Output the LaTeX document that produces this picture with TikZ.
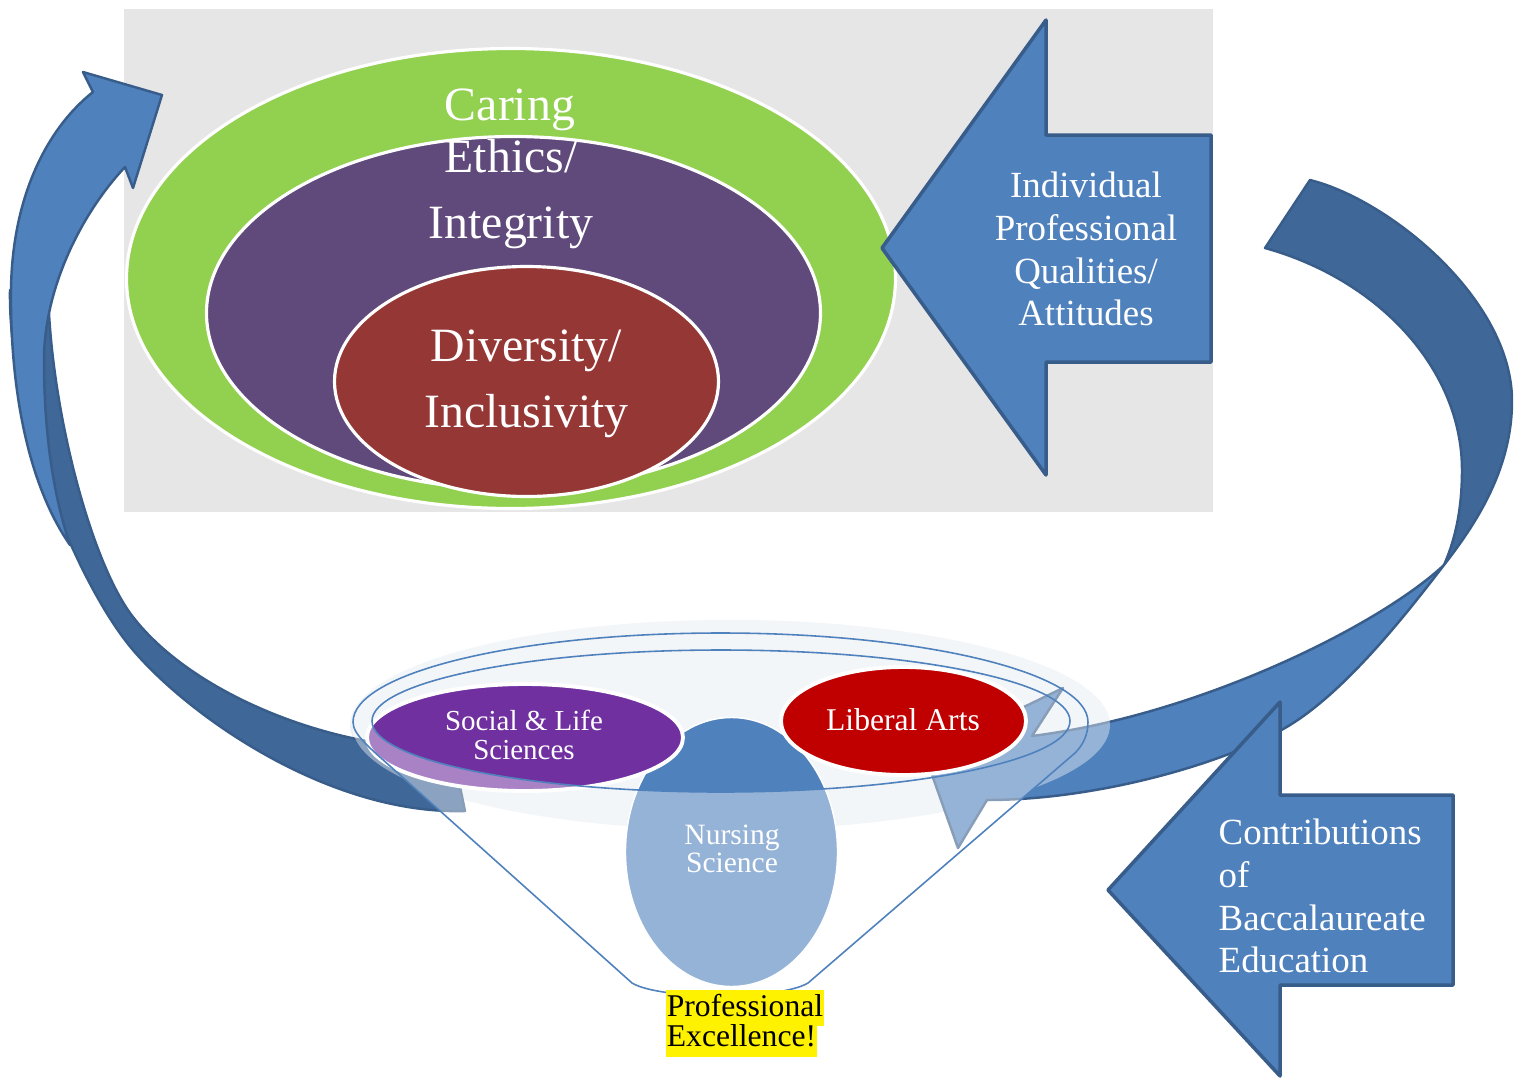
\documentclass[tikz,border=0pt]{standalone}
\usepackage{fontspec}
\setmainfont{Liberation Serif}
\usepackage{tikz}
\usepackage{xcolor}
\definecolor{panel}{HTML}{E6E6E6}
\definecolor{caring}{HTML}{92D050}
\definecolor{ethics}{HTML}{604A7B}
\definecolor{diversity}{HTML}{953735}
\definecolor{arrowfill}{HTML}{4F81BD}
\definecolor{arrowback}{HTML}{3F6797}
\definecolor{arrowedge}{HTML}{385D8A}
\definecolor{social}{HTML}{7030A0}
\definecolor{liberal}{HTML}{C00000}
\definecolor{glow}{HTML}{ECF0F5}
\newcommand{\funnelpath}{(353,722) arc[start angle=180, end angle=360, x radius=367.5, y radius=89] .. controls (1088,735) and (1083,745) .. (1075,753) -- (808,983) .. controls (780,1000) and (660,1000) .. (632,983) -- (400,775) .. controls (370,748) and (353,735) .. cycle}

\begin{document}
\begin{tikzpicture}[x=0.1mm, y=-0.1mm,
    blockarrow/.style={fill=arrowfill, draw=arrowedge, line width=1pt, line join=round},
    bandfront/.style={fill=arrowfill, draw=arrowedge, line width=0.7pt, line join=round},
    bandback/.style={fill=arrowback, draw=arrowedge, line width=0.7pt, line join=round},
    ringline/.style={draw=arrowfill, line width=0.45pt},
    bigtext/.style={text=white, inner sep=0pt, align=center, font=\fontsize{13.6}{18.8}\selectfont},
    boxtext/.style={text=white, inner sep=0pt, font=\fontsize{10.5}{12.2}\selectfont},
    rimtext/.style={text=white, inner sep=0pt, align=center},
    excel/.style={fill=yellow, inner xsep=0.3pt, inner ysep=0pt, font=\fontsize{9}{9}\selectfont}]
\useasboundingbox (0,0) rectangle (1522,1078);

\fill[panel] (124,9) rectangle (1213,512);
\filldraw[fill=caring, draw=white, line width=0.9pt] (511,278.5) ellipse[x radius=384.5, y radius=230];
\filldraw[fill=ethics, draw=white, line width=0.9pt] (513.5,313) ellipse[x radius=307, y radius=176.5];
\filldraw[fill=diversity, draw=white, line width=0.9pt] (526.5,381.5) ellipse[x radius=192, y radius=115];
\node[bigtext, anchor=base] (caringtext) at (510,120) {Caring};
\node[bigtext] (ethicstext) at (511,194) {Ethics/\\Integrity};
\node[bigtext] (diversitytext) at (526.5,384) {Diversity/\\Inclusivity};

\filldraw[blockarrow] (882,248) -- (1046,20) -- (1046,135) -- (1211,135) -- (1211,362) -- (1046,362) -- (1046,475) -- cycle;
\node[boxtext, align=center] (qualities) at (1086,249) {Individual\\Professional\\Qualities/\\Attitudes};

\fill[glow] (730,725) ellipse[x radius=380, y radius=105];

\filldraw[bandback] (10,290) .. controls (8,420) and (80,588) .. (133,650) .. controls (190,717) and (330,815) .. (465,811)
    -- (452,748) .. controls (340,752) and (195,697) .. (133,617) .. controls (90,562) and (48,400) .. (48,280) -- cycle;
\filldraw[bandfront] (70,545) .. controls (25,480) and (10,380) .. (11,290) .. controls (12,200) and (45,130) .. (93,92)
    -- (83,72) -- (162,95) -- (133,188) -- (125,167)
    .. controls (80,215) and (44,290) .. (44,360) .. controls (44,440) and (55,500) .. cycle;

\filldraw[bandback] (1265,248) .. controls (1380,280) and (1462,370) .. (1462,470) .. controls (1462,510) and (1455,540) .. (1444,565)
    .. controls (1475,525) and (1512,470) .. (1512,401) .. controls (1512,300) and (1390,200) .. (1310,180) -- cycle;
\filldraw[bandfront] (1444,565) .. controls (1380,625) and (1200,715) .. (1032,736)
    -- (1063,688) -- (925,755) -- (958,848) -- (987,800)
    .. controls (1100,800) and (1230,762) .. (1290,725) .. controls (1350,688) and (1413,605) .. cycle;

\filldraw[blockarrow] (1108,890) -- (1280,702) -- (1280,795) -- (1453,795) -- (1453,985) -- (1280,985) -- (1280,1076) -- cycle;
\node[boxtext, align=left, anchor=west] (contributions) at (1218,896) {Contributions\\of\\Baccalaureate\\Education};

\fill[white, opacity=0.4] (350,725) arc[start angle=180, end angle=396.5, x radius=380, y radius=105] -- (808,983)
    .. controls (780,1000) and (660,1000) .. (632,983) -- (404.5,779) arc[start angle=149.7, end angle=180, x radius=380, y radius=105] -- cycle;
\filldraw[fill=arrowfill, draw=white, line width=0.4pt] (731.5,852) ellipse[x radius=106, y radius=134.5];
\filldraw[fill=social, draw=white, line width=1.1pt] (525,737.5) ellipse[x radius=158, y radius=53.5];
\filldraw[fill=liberal, draw=white, line width=1.1pt] (903.5,721) ellipse[x radius=122.5, y radius=54];
\begin{scope}
  \clip (731.5,852) ellipse[x radius=106, y radius=134.5] (525,737.5) ellipse[x radius=158, y radius=53.5];
  \fill[white, opacity=0.4, even odd rule] \funnelpath (721,721) ellipse[x radius=349, y radius=71];
\end{scope}
\draw[ringline] \funnelpath;
\draw[ringline] (721,721) ellipse[x radius=349, y radius=71];

\node[rimtext, font=\fontsize{8.25}{8.25}\selectfont] (sociallabel) at (524,734.5) {Social \& Life\\Sciences};
\node[rimtext, anchor=base, font=\fontsize{9}{9}\selectfont] (liberallabel) at (903,730.7) {Liberal Arts};
\node[rimtext, font=\fontsize{8.4}{8}\selectfont] (nursinglabel) at (732,849) {Nursing\\Science};
\node[excel, text height=7.5pt, text depth=2.5pt, anchor=base] (proflabel) at (745,1016.7) {Professional\hspace{2pt}};
\node[excel, text height=6.2pt, text depth=2.8pt, anchor=base] (excellabel) at (741.5,1046.7) {Excellence!};
\end{tikzpicture}
\end{document}
